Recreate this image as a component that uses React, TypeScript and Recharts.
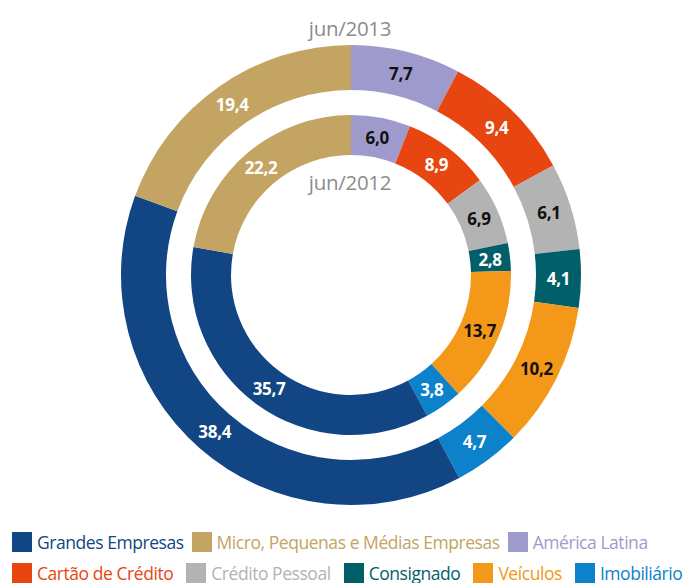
import React from 'react';
import { PieChart, Pie, Cell, Legend } from 'recharts';

// Pie order (clockwise from 12 o'clock)
const pieCategories = [
  'América Latina',
  'Cartão de Crédito',
  'Crédito Pessoal',
  'Consignado',
  'Veículos',
  'Imobiliário',
  'Grandes Empresas',
  'Micro, Pequenas e Médias Empresas',
];
const values2013 = [7.7, 9.4, 6.1, 4.1, 10.2, 4.7, 38.4, 19.4];
const values2012 = [6.0, 8.9, 6.9, 2.8, 13.7, 3.8, 35.7, 22.2];

// Legend order
const legendRow1 = ['Grandes Empresas', 'Micro, Pequenas e Médias Empresas', 'América Latina'];
const legendRow2 = ['Cartão de Crédito', 'Crédito Pessoal', 'Consignado', 'Veículos', 'Imobiliário'];

const titles = { outer: 'jun/2013', inner: 'jun/2012' };

const colors: Record<string, string> = {
  'Grandes Empresas': '#124583',
  'Micro, Pequenas e Médias Empresas': '#c4a463',
  'América Latina': '#9e9bcc',
  'Cartão de Crédito': '#e84611',
  'Crédito Pessoal': '#b2b3b2',
  'Consignado': '#015f69',
  'Veículos': '#f39819',
  'Imobiliário': '#0b82c9',
};
const labelColors: Record<string, string> = {
  'Grandes Empresas': '#ffffff',
  'Micro, Pequenas e Médias Empresas': '#ffffff',
  'América Latina': '#111111',
  'Cartão de Crédito': '#ffffff',
  'Crédito Pessoal': '#111111',
  'Consignado': '#ffffff',
  'Veículos': '#111111',
  'Imobiliário': '#ffffff',
};

const data2013 = pieCategories.map((name, i) => ({ name, value: values2013[i] }));
const data2012 = pieCategories.map((name, i) => ({ name, value: values2012[i] }));

const FONT = '"Open Sans", "Noto Sans", sans-serif';
const RADIAN = Math.PI / 180;

const fmt = (v: number) => v.toFixed(1).replace('.', ',');

const renderLabel = (props: any) => {
  const { cx, cy, midAngle, innerRadius, outerRadius, value, name, index } = props;
  const r = (innerRadius + outerRadius) / 2;
  const x = cx + r * Math.cos(-midAngle * RADIAN);
  const y = cy + r * Math.sin(-midAngle * RADIAN);
  const nm = name ?? pieCategories[index];
  return (
    <text
      x={x}
      y={y}
      textAnchor="middle"
      dominantBaseline="central"
      fill={labelColors[nm]}
      fontFamily={FONT}
      fontWeight={700}
      fontSize={17}
      letterSpacing={-0.3}
    >
      {fmt(value)}
    </text>
  );
};

const LegendContent = () => {
  const item = (gap: number) => (name: string) => (
    <div key={name} style={{ display: 'flex', alignItems: 'center', marginRight: gap }}>
      <div style={{ width: 20, height: 20, background: colors[name], marginRight: 5 }} />
      <span style={{ color: colors[name], fontFamily: FONT, fontSize: 17.5, letterSpacing: -0.45, whiteSpace: 'nowrap' }}>{name}</span>
    </div>
  );
  return (
    <div style={{ paddingLeft: 12 }}>
      <div style={{ display: 'flex', height: 32, alignItems: 'center' }}>{legendRow1.map(item(8))}</div>
      <div style={{ display: 'flex', height: 29, alignItems: 'center' }}>{legendRow2.map(item(13))}</div>
    </div>
  );
};

export default function App() {
  return (
    <div style={{ position: 'absolute', left: 0, top: 0, width: 694, height: 583, background: '#fff', overflow: 'hidden' }}>
      <PieChart width={694} height={583} margin={{ top: 0, right: 0, bottom: 0, left: 0 }}>
        <Pie
          data={data2013}
          dataKey="value"
          nameKey="name"
          cx={351}
          cy={275}
          innerRadius={185}
          outerRadius={230}
          startAngle={90}
          endAngle={-270}
          stroke="none"
          label={renderLabel}
          labelLine={false}
          isAnimationActive={false}
        >
          {data2013.map((d) => (
            <Cell key={d.name} fill={colors[d.name]} />
          ))}
        </Pie>
        <Pie
          data={data2012}
          dataKey="value"
          nameKey="name"
          cx={351}
          cy={275}
          innerRadius={120}
          outerRadius={160}
          startAngle={90}
          endAngle={-270}
          stroke="none"
          label={renderLabel}
          labelLine={false}
          isAnimationActive={false}
        >
          {data2012.map((d) => (
            <Cell key={d.name} fill={colors[d.name]} />
          ))}
        </Pie>
        <Legend
          content={<LegendContent />}
          wrapperStyle={{ position: 'absolute', left: 0, top: 526, width: 694 }}
        />
      </PieChart>
      <svg width={694} height={583} style={{ position: 'absolute', left: 0, top: 0, pointerEvents: 'none' }}>
        <text x={350} y={36} textAnchor="middle" fill="#8c8c8c" fontFamily={FONT} fontSize={20.5} letterSpacing={-0.3}>
          {titles.outer}
        </text>
        <text x={350} y={190} textAnchor="middle" fill="#8c8c8c" fontFamily={FONT} fontSize={20.5} letterSpacing={-0.3}>
          {titles.inner}
        </text>
      </svg>
    </div>
  );
}
